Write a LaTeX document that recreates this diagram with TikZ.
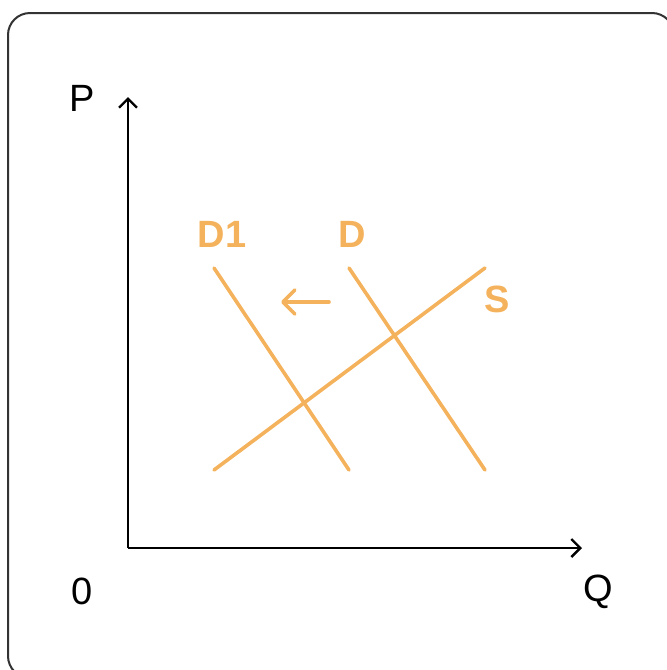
\documentclass[tikz,border=0pt]{standalone}
\usepackage{fontspec}
\setmainfont{Liberation Sans}
\usetikzlibrary{arrows.meta,positioning}
\definecolor{accent}{HTML}{F4B25C}
\definecolor{frame}{HTML}{333333}

\begin{document}
\begin{tikzpicture}[x=1pt,y=-1pt,
  axis/.style={line width=2.6pt,black,-{Straight Barb[length=9pt,width=18pt,line width=2.4pt]}},
  curve/.style={line width=3.6pt,accent,line cap=round},
  lbl/.style={font=\fontsize{38}{42}\selectfont,inner sep=0pt},
  clbl/.style={lbl,font=\fontsize{38}{42}\selectfont\bfseries,text=accent}]
  \useasboundingbox (0,0) rectangle (667,670);
  % card
  \draw[line width=2pt,frame,rounded corners=22pt] (8,13) rectangle (674,678);
  % axes
  \coordinate (o) at (128,548);
  \coordinate (ptop) at (128,97);
  \coordinate (qend) at (582,548);
  \draw[axis] (o) -- (ptop);
  \draw[axis] (o) -- (qend);
  \node[lbl] (p) at (82,98) {P};
  \node[lbl] (zero) at (82,591) {0};
  \node[lbl] (q) at (598,592) {Q};
  % demand and supply
  \coordinate (d1a) at (214,268);
  \coordinate (d1b) at (349,470);
  \coordinate (da) at (349,268);
  \coordinate (db) at (485,470);
  \coordinate (sa) at (214,470);
  \coordinate (sb) at (485,268);
  \draw[curve] (d1a) -- (d1b);
  \draw[curve] (da) -- (db);
  \draw[curve] (sa) -- (sb);
  \node[clbl] (d1lbl) at (222,234) {D1};
  \node[clbl] (dlbl) at (352,234) {D};
  \node[clbl] (slbl) at (497,299) {S};
  % shift
  \coordinate (sh0) at (329,302);
  \coordinate (sh1) at (281,302);
  \draw[curve,-{Straight Barb[length=12pt,width=24pt,line width=3.6pt,round]}] (sh0) -- (sh1);
\end{tikzpicture}
\end{document}
